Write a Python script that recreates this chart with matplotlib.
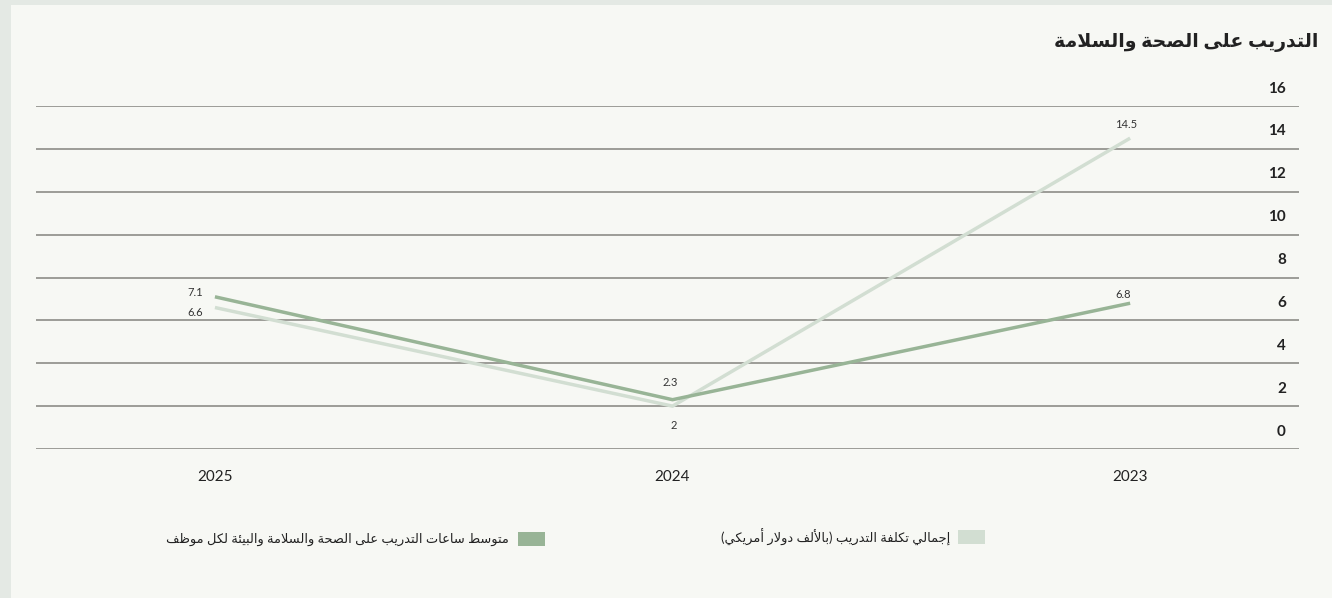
import matplotlib
matplotlib.use("Agg")
import matplotlib.pyplot as plt
from matplotlib.patches import Rectangle
from matplotlib.transforms import offset_copy

# ---- data ----
years = ["2023", "2024", "2025"]
avg_hours = [6.8, 2.3, 7.1]          # متوسط ساعات التدريب لكل موظف
total_cost = [14.5, 2.0, 6.6]        # إجمالي تكلفة التدريب (بالألف دولار)
y_ticks = [0, 2, 4, 6, 8, 10, 12, 14, 16]
y_tick_labels = ["0", "2", "4", "6", "8", "10", "12", "14", "16"]
hours_labels = ["6.8", "2.3", "7.1"]
cost_labels = ["14.5", "2", "6.6"]

title_text = "التدريب على الصحة والسلامة"
hours_name = "متوسط ساعات التدريب على الصحة والسلامة والبيئة لكل موظف"
cost_name = "إجمالي تكلفة التدريب (بالألف دولار أمريكي)"

# ---- colours / styles ----
BG_OUTER = "#e4e9e4"
BG_PANEL = "#f7f8f4"
GRID = "#9c9c97"
HOURS_C = "#98b496"
COST_C = "#d2ded2"
TEXT_C = "#222222"
LABEL_C = "#333333"

# label offsets (pixels) for each point, per series
hours_offsets = [(-7, 9, "center"), (-2, 17, "center"), (-12, 4, "right")]
cost_offsets = [(-4, 14, "center"), (1, -19, "center"), (-12, -5, "right")]

# ---- Arabic shaping (contextual forms + visual order) ----
_DUAL = {0x0626: 0xFE89, 0x0628: 0xFE8F, 0x062A: 0xFE95, 0x062B: 0xFE99,
         0x062C: 0xFE9D, 0x062D: 0xFEA1, 0x062E: 0xFEA5, 0x0633: 0xFEB1,
         0x0634: 0xFEB5, 0x0635: 0xFEB9, 0x0636: 0xFEBD, 0x0637: 0xFEC1,
         0x0638: 0xFEC5, 0x0639: 0xFEC9, 0x063A: 0xFECD, 0x0641: 0xFED1,
         0x0642: 0xFED5, 0x0643: 0xFED9, 0x0644: 0xFEDD, 0x0645: 0xFEE1,
         0x0646: 0xFEE5, 0x0647: 0xFEE9, 0x064A: 0xFEF1}
_RIGHT = {0x0622: 0xFE81, 0x0623: 0xFE83, 0x0624: 0xFE85, 0x0625: 0xFE87,
          0x0627: 0xFE8D, 0x0629: 0xFE93, 0x062F: 0xFEA9, 0x0630: 0xFEAB,
          0x0631: 0xFEAD, 0x0632: 0xFEAF, 0x0648: 0xFEED, 0x0649: 0xFEEF}
_NONE = {0x0621: 0xFE80}
_LAM_ALEF = {0x0622: 0xFEF5, 0x0623: 0xFEF7, 0x0625: 0xFEF9, 0x0627: 0xFEFB}


def shape_arabic(text):
    items = []
    i = 0
    while i < len(text):
        c = ord(text[i])
        if c == 0x0644 and i + 1 < len(text) and ord(text[i + 1]) in _LAM_ALEF:
            items.append(("LA", _LAM_ALEF[ord(text[i + 1])]))
            i += 2
        else:
            items.append(("C", c))
            i += 1

    def joins_next(it):
        return it[0] == "C" and it[1] in _DUAL

    def joins_prev(it):
        return it[0] == "LA" or it[1] in _DUAL or it[1] in _RIGHT

    out = []
    for k, it in enumerate(items):
        kind, c = it
        prev = items[k - 1] if k > 0 else None
        nxt = items[k + 1] if k + 1 < len(items) else None
        p = prev is not None and joins_next(prev) and joins_prev(it)
        n = nxt is not None and joins_next(it) and joins_prev(nxt)
        if kind == "LA":
            out.append(chr(c + (1 if p else 0)))
        elif c in _DUAL:
            out.append(chr(_DUAL[c] + (3 if (p and n) else 1 if p else 2 if n else 0)))
        elif c in _RIGHT:
            out.append(chr(_RIGHT[c] + (1 if p else 0)))
        elif c in _NONE:
            out.append(chr(_NONE[c]))
        else:
            out.append(chr(c))
    visual = "".join(out)[::-1]
    return visual.translate(str.maketrans("()", ")("))


plt.rcParams["font.family"] = ["Lato", "DejaVu Sans"]

W, H = 1332, 598
fig = plt.figure(figsize=(W / 100, H / 100), dpi=100, facecolor=BG_OUTER)

# inner panel
fig.add_artist(Rectangle((11 / W, 0), 1 - 11 / W, 1 - 5 / H,
                         transform=fig.transFigure, facecolor=BG_PANEL,
                         edgecolor="none", zorder=0))

ax = fig.add_axes([36 / W, (H - 449) / H, 1263 / W, (449 - 106) / H])
ax.set_facecolor("none")

x = list(range(len(years)))
ax.plot(x, total_cost, color=COST_C, lw=2.5, zorder=3, solid_capstyle="butt")
ax.plot(x, avg_hours, color=HOURS_C, lw=2.5, zorder=4, solid_capstyle="butt")

ax.set_xlim(2.391, -0.369)
ax.set_ylim(0, 16)

for v in y_ticks:
    ax.axhline(v, color=GRID, lw=1.4, zorder=1)

for s in ax.spines.values():
    s.set_visible(False)

ax.set_yticks([])
ax.set_xticks(x)
ax.set_xticklabels(years, fontsize=11, color=TEXT_C)
ax.tick_params(axis="x", length=0, pad=15)

# value labels along the right edge, sitting above each grid line
ytrans = offset_copy(ax.get_yaxis_transform(), fig=fig, x=0, y=17.5, units="dots")
for v, lab in zip(y_ticks, y_tick_labels):
    ax.text(0.9897, v, lab, transform=ytrans, ha="right", va="center",
            fontsize=11, fontweight="bold", color=TEXT_C)

# point labels
for xi, val, lab, (dx, dy, ha) in zip(x, avg_hours, hours_labels, hours_offsets):
    ax.annotate(lab, (xi, val), xytext=(dx, dy), textcoords="offset pixels",
                ha=ha, va="center", fontsize=8, color=LABEL_C)
for xi, val, lab, (dx, dy, ha) in zip(x, total_cost, cost_labels, cost_offsets):
    ax.annotate(lab, (xi, val), xytext=(dx, dy), textcoords="offset pixels",
                ha=ha, va="center", fontsize=8, color=LABEL_C)

# title
fig.text(1318 / W, 1 - 43 / H, shape_arabic(title_text), ha="right", va="center",
         fontsize=13.6, fontweight="bold", color=TEXT_C)

# legend (swatch to the right of each label)
legend_items = [(hours_name, HOURS_C, 518, 539, 509),
                (cost_name, COST_C, 958, 537, 950)]
for name, col, sx, cy, tx in legend_items:
    fig.add_artist(Rectangle((sx / W, 1 - (cy + 7) / H), 27 / W, 14 / H,
                             transform=fig.transFigure, facecolor=col,
                             edgecolor="none"))
    fig.text(tx / W, 1 - cy / H, shape_arabic(name), ha="right", va="center",
             fontsize=9.4, color=TEXT_C)

fig.savefig("out.png", dpi=100, facecolor=BG_OUTER)
